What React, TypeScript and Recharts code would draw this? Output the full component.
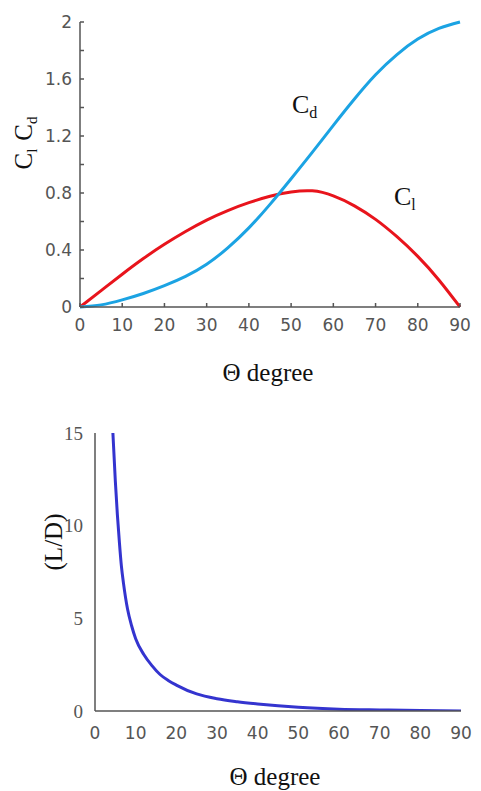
import { LineChart, Line, XAxis, YAxis } from 'recharts';

// Top chart: lift / drag coefficients vs angle
const theta = [0, 5, 10, 15, 20, 25, 30, 35, 40, 45, 50, 55, 60, 65, 70, 75, 80, 85, 90];
const clValues = [0, 0.115, 0.23, 0.34, 0.44, 0.53, 0.61, 0.677, 0.732, 0.777, 0.807, 0.815, 0.78, 0.71, 0.615, 0.495, 0.355, 0.19, 0];
const cdValues = [0, 0.015, 0.05, 0.095, 0.15, 0.215, 0.3, 0.415, 0.555, 0.72, 0.9, 1.085, 1.275, 1.46, 1.63, 1.77, 1.88, 1.955, 2.0];
const topYTicks = [0, 0.2, 0.4, 0.6, 0.8, 1.0, 1.2, 1.4, 1.6, 1.8, 2.0];
const topYLabels = ['0', '', '0.4', '', '0.8', '', '1.2', '', '1.6', '', '2'];

// Bottom chart: L/D ratio vs angle
const ldTheta = [4.4, 5, 5.5, 6, 6.5, 7, 8, 9, 10, 12, 14, 16, 18, 20, 25, 30, 35, 40, 45, 50, 60, 70, 80, 90];
const ldValues = [15, 12.4, 10.6, 9.1, 7.8, 6.9, 5.5, 4.6, 3.9, 3.05, 2.45, 1.97, 1.65, 1.4, 0.92, 0.66, 0.5, 0.38, 0.28, 0.2, 0.1, 0.06, 0.03, 0];
const ldYTicks = [0, 5, 10, 15];

const xTicks = [0, 10, 20, 30, 40, 50, 60, 70, 80, 90];

const topData = theta.map((t, i) => ({ theta: t, cl: clValues[i], cd: cdValues[i] }));
const ldData = ldTheta.map((t, i) => ({ theta: t, ld: ldValues[i] }));

const axisColor = '#555';
const tickStyle = { fontSize: 17, fill: '#555', fontFamily: 'DejaVu Sans' };
const serif = 'Liberation Serif';

const App = () => {
  return (
    <div style={{ position: 'absolute', left: 0, top: 0, width: 481, height: 791, background: '#fff' }}>
      <div style={{ position: 'absolute', left: 0, top: 0 }}>
        <LineChart width={481} height={390} data={topData} margin={{ top: 22, right: 21, left: 0, bottom: 0 }}>
          <XAxis
            dataKey='theta'
            type='number'
            domain={[0, 90]}
            ticks={xTicks}
            height={83}
            stroke={axisColor}
            strokeWidth={1.5}
            tickSize={-4}
            tickMargin={16}
            tick={tickStyle}
          />
          <YAxis
            type='number'
            domain={[0, 2]}
            ticks={topYTicks}
            tickFormatter={(v: number, i: number) => topYLabels[i]}
            width={80}
            stroke={axisColor}
            strokeWidth={1.5}
            tickSize={-4}
            tickMargin={12}
            tick={tickStyle}
          />
          <Line dataKey='cl' type='natural' stroke='#e8141c' strokeWidth={3} dot={false} isAnimationActive={false} />
          <Line dataKey='cd' type='natural' stroke='#1ba3e3' strokeWidth={3} dot={false} isAnimationActive={false} />
        </LineChart>
      </div>
      <div style={{ position: 'absolute', left: 0, top: 395 }}>
        <LineChart width={481} height={395} data={ldData} margin={{ top: 38, right: 20, left: 0, bottom: 0 }}>
          <XAxis
            dataKey='theta'
            type='number'
            domain={[0, 90]}
            ticks={xTicks}
            height={79}
            stroke={axisColor}
            strokeWidth={1.5}
            tickLine={false}
            tickMargin={10}
            tick={tickStyle}
          />
          <YAxis
            type='number'
            domain={[0, 15]}
            ticks={ldYTicks}
            allowDataOverflow
            width={95}
            stroke={axisColor}
            strokeWidth={1.5}
            tickLine={false}
            tickMargin={6}
            tick={{ ...tickStyle, fontFamily: serif, fontSize: 19 }}
          />
          <Line dataKey='ld' type='monotone' stroke='#3434cf' strokeWidth={3} dot={false} isAnimationActive={false} />
        </LineChart>
      </div>
      <svg width={481} height={791} style={{ position: 'absolute', left: 0, top: 0, pointerEvents: 'none' }}>
        <g fontFamily={serif} fill='#111'>
          <text transform='translate(32,143) rotate(-90)' textAnchor='middle' fontSize={25}>
            C<tspan fontSize={15} dy={5}>l</tspan>
            <tspan dx={8} dy={-5}>C</tspan>
            <tspan fontSize={15} dy={5}>d</tspan>
          </text>
          <text x={292} y={113} fontSize={26}>
            C<tspan fontSize={16} dy={5}>d</tspan>
          </text>
          <text x={394} y={205} fontSize={26}>
            C<tspan fontSize={16} dy={5}>l</tspan>
          </text>
          <text x={268} y={381} textAnchor='middle' fontSize={25}>Θ degree</text>
          <text transform='translate(62,542) rotate(-90)' textAnchor='middle' fontSize={25}>(L/D)</text>
          <text x={275} y={785} textAnchor='middle' fontSize={25}>Θ degree</text>
        </g>
      </svg>
    </div>
  );
};

export default App;
